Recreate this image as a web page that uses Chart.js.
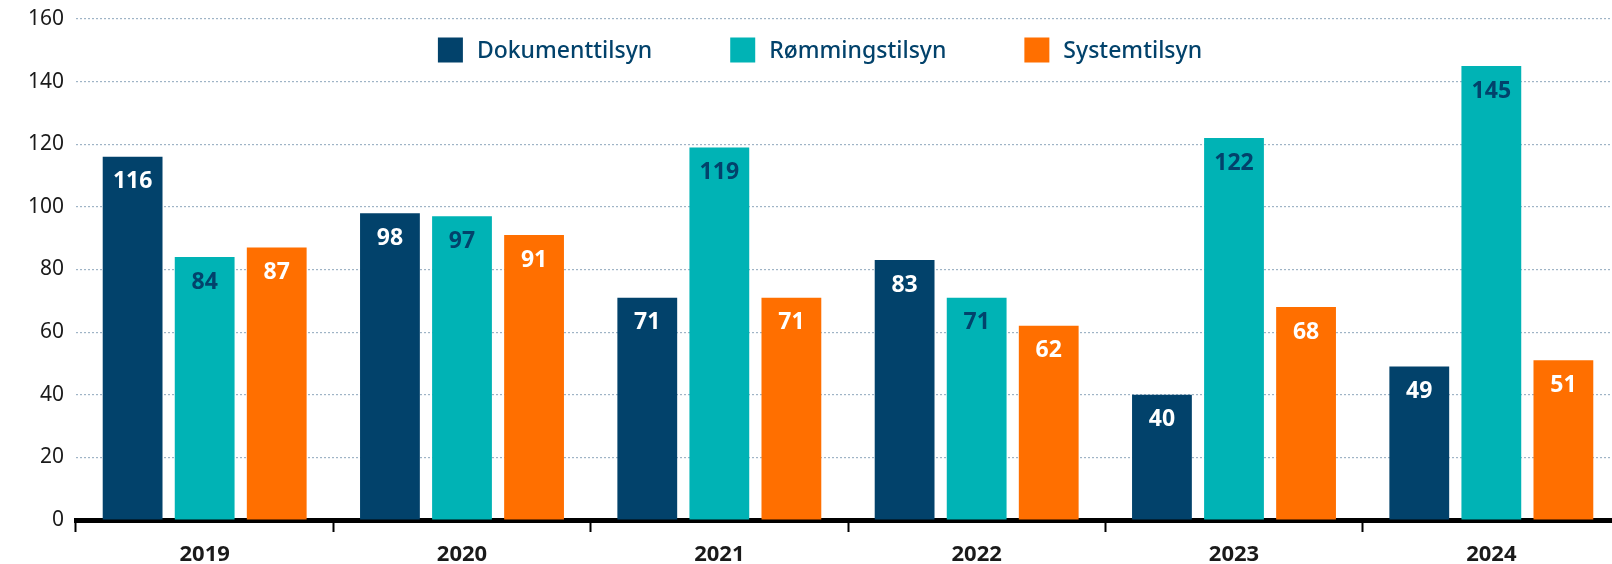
<!DOCTYPE html>
<html>
<head>
<meta charset="utf-8">
<script src="https://cdn.jsdelivr.net/npm/chart.js@4.4.1/dist/chart.umd.min.js"></script>
<style>
  html, body { margin: 0; padding: 0; background: #fff; overflow: hidden; }
  #wrap { width: 1620px; height: 564px; }
</style>
</head>
<body>
<div id="wrap"><canvas id="chart"></canvas></div>
<script>
// data
const years = ['2019', '2020', '2021', '2022', '2023', '2024'];
const dokumenttilsyn = [116, 98, 71, 83, 40, 49];
const rommingstilsyn = [84, 97, 119, 71, 122, 145];
const systemtilsyn = [87, 91, 71, 62, 68, 51];
const yTicks = [0, 20, 40, 60, 80, 100, 120, 140, 160];

const NAVY = '#02426b';
const TEAL = '#00b3b5';
const ORANGE = '#ff6f00';
const FONT = "'Noto Sans', 'Open Sans', sans-serif";

// labels inside the top of each bar
const barLabels = {
    id: 'barLabels',
    afterDatasetsDraw(chart) {
        const ctx = chart.ctx;
        ctx.save();
        ctx.font = 'bold 23px ' + FONT;
        ctx.textAlign = 'center';
        ctx.textBaseline = 'middle';
        chart.data.datasets.forEach((ds, i) => {
            const meta = chart.getDatasetMeta(i);
            meta.data.forEach((bar, j) => {
                ctx.fillStyle = ds.labelColor;
                ctx.fillText(ds.data[j], bar.x, bar.y + 25);
            });
        });
        ctx.restore();
    }
};

// legend drawn over the plot, like in the original
const overlayLegend = {
    id: 'overlayLegend',
    afterDraw(chart) {
        const ctx = chart.ctx;
        ctx.save();
        ctx.font = '500 23px ' + FONT;
        ctx.textBaseline = 'middle';
        const box = 25, gap = 14, spacing = 78;
        const items = chart.data.datasets.map(ds => ({
            label: ds.label,
            color: ds.backgroundColor,
            w: box + gap + ctx.measureText(ds.label).width
        }));
        const total = items.reduce((s, it) => s + it.w, 0) + spacing * (items.length - 1);
        let x = 820 - total / 2;
        const yc = 50;
        items.forEach(it => {
            ctx.fillStyle = it.color;
            ctx.fillRect(x, yc - box / 2, box, box);
            ctx.fillStyle = NAVY;
            ctx.fillText(it.label, x + box + gap, yc + 1);
            x += it.w + spacing;
        });
        ctx.restore();
    }
};

const ctx = document.getElementById('chart').getContext('2d');
new Chart(ctx, {
    type: 'bar',
    data: {
        labels: years,
        datasets: [
            { label: 'Dokumenttilsyn', data: dokumenttilsyn, backgroundColor: NAVY, labelColor: '#ffffff' },
            { label: 'Rømmingstilsyn', data: rommingstilsyn, backgroundColor: TEAL, labelColor: NAVY },
            { label: 'Systemtilsyn', data: systemtilsyn, backgroundColor: ORANGE, labelColor: '#ffffff' }
        ]
    },
    options: {
        responsive: true,
        maintainAspectRatio: false,
        animation: false,
        categoryPercentage: 0.84,
        barPercentage: 0.83,
        layout: { padding: { top: 19, right: 0, left: 0, bottom: 0 } },
        plugins: {
            legend: { display: false },
            tooltip: { enabled: false }
        },
        scales: {
            x: {
                afterFit(scale) { scale.height = 44; },
                border: { color: '#000', width: 5 },
                grid: {
                    offset: true,
                    drawOnChartArea: false,
                    drawTicks: true,
                    tickLength: 12,
                    tickWidth: 2,
                    tickColor: '#000'
                },
                ticks: {
                    color: '#1a1a1a',
                    padding: 10,
                    font: { family: FONT, size: 22, weight: 'bold' }
                }
            },
            y: {
                min: 0,
                max: 160,
                afterFit(scale) {
                    scale.width = 76;
                    scale.paddingTop = 0;
                    scale.paddingBottom = 0;
                },
                afterBuildTicks(scale) { scale.ticks = yTicks.map(v => ({ value: v })); },
                border: { display: false, dash: [2, 2] },
                grid: {
                    color: '#9fb4c6',
                    lineWidth: 1.2,
                    drawTicks: false
                },
                ticks: {
                    color: '#1a1a1a',
                    padding: 12,
                    font: { family: FONT, size: 21 }
                }
            }
        }
    },
    plugins: [barLabels, overlayLegend]
});
</script>
</body>
</html>
